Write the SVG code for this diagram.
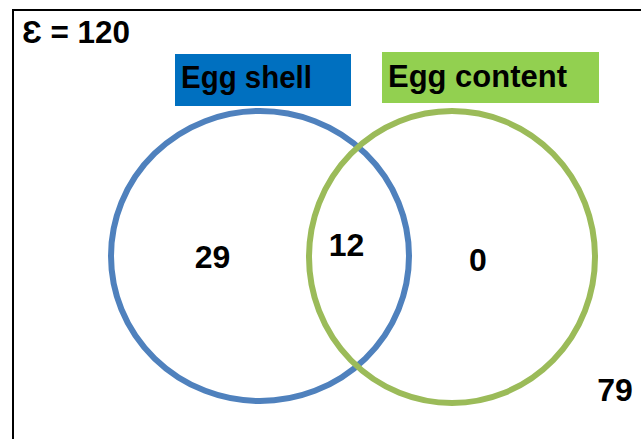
<svg xmlns="http://www.w3.org/2000/svg" width="641" height="439" viewBox="0 0 641 439">
<style>
.t{font-family:"Liberation Sans",Arial,sans-serif;font-weight:bold;fill:#000}
.n{font-size:32px;text-anchor:middle}
.lbl{font-size:31px}
</style>
<rect width="641" height="439" fill="#fff"/>
<rect id="universe" x="13" y="10" width="640" height="440" fill="none" stroke="#000" stroke-width="2"/>
<text class="t" x="22" y="43" font-size="31" textLength="108" lengthAdjust="spacingAndGlyphs">Ɛ = 120</text>
<g id="egg-shell">
<ellipse cx="260" cy="256" rx="149" ry="145" fill="none" stroke="#4F81BD" stroke-width="6"/>
<rect x="175" y="54" width="176" height="52" fill="#0070C0"/>
<text class="t lbl" x="181" y="88" textLength="131" lengthAdjust="spacingAndGlyphs">Egg shell</text>
</g>
<g id="egg-content">
<ellipse cx="452" cy="257" rx="143" ry="146" fill="none" stroke="#9BBB59" stroke-width="6"/>
<rect x="382" y="52" width="217" height="51" fill="#92D050"/>
<text class="t lbl" x="388" y="87" textLength="179" lengthAdjust="spacingAndGlyphs">Egg content</text>
</g>
<g id="values">
<text class="t n" x="212.5" y="268">29</text>
<text class="t n" x="346.5" y="256">12</text>
<text class="t n" x="478" y="271">0</text>
<text class="t n" x="615" y="401">79</text>
</g>
<g id="connectors"/>
</svg>
